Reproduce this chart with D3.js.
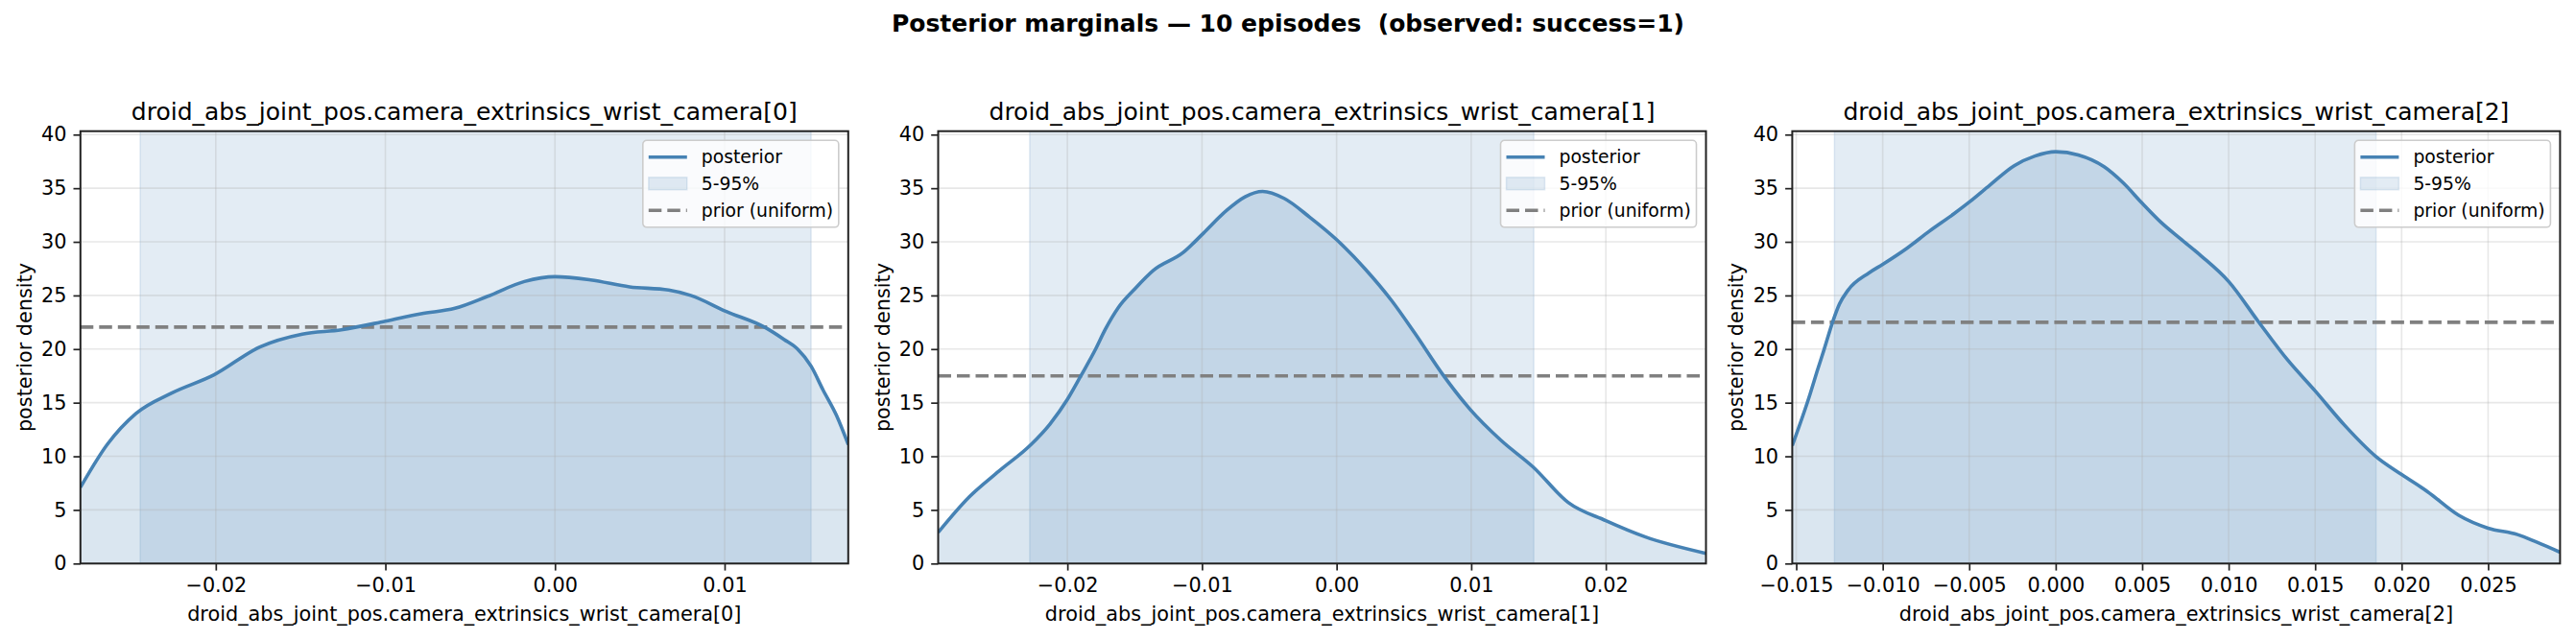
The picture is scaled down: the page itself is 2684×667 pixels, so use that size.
<!DOCTYPE html>
<html>
<head>
<meta charset="utf-8">
<script src="https://cdn.jsdelivr.net/npm/d3@7"></script>
<style>
  body { margin: 0; background: #fff; }
  svg { display: block; font-family: "DejaVu Sans", sans-serif; }
</style>
</head>
<body>
<svg id="chart" width="2684" height="667"></svg>
<script>
// values
const suptitle = "Posterior marginals \u2014 10 episodes  (observed: success=1)";
const dimNames = [
  "droid_abs_joint_pos.camera_extrinsics_wrist_camera[0]",
  "droid_abs_joint_pos.camera_extrinsics_wrist_camera[1]",
  "droid_abs_joint_pos.camera_extrinsics_wrist_camera[2]"
];
const xDomains = [[-0.02798, 0.01729], [-0.0296, 0.02744], [-0.01523, 0.02916]];
const xTicks = [
  [-0.02, -0.01, 0.00, 0.01],
  [-0.02, -0.01, 0.00, 0.01, 0.02],
  [-0.015, -0.010, -0.005, 0.000, 0.005, 0.010, 0.015, 0.020, 0.025]
];
const xTickDigits = [2, 2, 3];
const yTicks = [0, 5, 10, 15, 20, 25, 30, 35, 40];
const yMax = 40.32;
const bands = [[-0.02446, 0.0151], [-0.0228, 0.01465], [-0.01279, 0.01852]];
const priors = [22.05, 17.5, 22.5];
const legendLabels = ["posterior", "5-95%", "prior (uniform)"];

const post0 = [
  [-0.02798, 7.1], [-0.0264, 11.1], [-0.0247, 14.0], [-0.0226, 15.9], [-0.0201, 17.6],
  [-0.0174, 20.2], [-0.0149, 21.4], [-0.0126, 21.8], [-0.0100, 22.6], [-0.0079, 23.3],
  [-0.0059, 23.8], [-0.0040, 24.9], [-0.0018, 26.3], [0.0000, 26.75], [0.0021, 26.45],
  [0.0044, 25.8], [0.0067, 25.5], [0.0080, 25.0], [0.0101, 23.5], [0.0124, 22.0],
  [0.0135, 20.9], [0.0143, 20.0], [0.0151, 18.4], [0.0158, 16.2], [0.0166, 13.8],
  [0.01729, 11.1]
];
const post1 = [
  [-0.0296, 2.9], [-0.0273, 6.2], [-0.0251, 8.6], [-0.0227, 11.1], [-0.0213, 13.0],
  [-0.0200, 15.3], [-0.0190, 17.5], [-0.0179, 20.0], [-0.0172, 21.8], [-0.0162, 23.9],
  [-0.0150, 25.6], [-0.0136, 27.35], [-0.0114, 29.0], [-0.0099, 30.8], [-0.0082, 32.9],
  [-0.0068, 34.2], [-0.0055, 34.7], [-0.0039, 34.05], [-0.0020, 32.3], [0.0000, 30.2],
  [0.0021, 27.5], [0.0041, 24.5], [0.0058, 21.5], [0.0079, 17.6], [0.0099, 14.4],
  [0.0122, 11.5], [0.0146, 9.0], [0.0172, 5.7], [0.0200, 4.0], [0.0229, 2.5],
  [0.02744, 0.95]
];
const post2 = [
  [-0.01523, 11.0], [-0.0142, 15.8], [-0.0138, 17.9], [-0.0134, 19.9], [-0.0129, 22.5],
  [-0.0125, 24.2], [-0.0120, 25.5], [-0.0108, 27.1], [-0.0100, 27.9], [-0.0086, 29.4],
  [-0.0073, 31.0], [-0.0059, 32.6], [-0.0050, 33.7], [-0.0038, 35.3], [-0.0024, 37.1],
  [-0.0012, 38.0], [0.0000, 38.4], [0.0013, 38.1], [0.0028, 37.0], [0.0039, 35.5],
  [0.0050, 33.6], [0.0061, 31.8], [0.0072, 30.3], [0.0084, 28.7], [0.0100, 26.3],
  [0.0117, 22.6], [0.0134, 19.0], [0.0150, 16.1], [0.0167, 12.9], [0.0185, 10.0],
  [0.0200, 8.3], [0.0215, 6.7], [0.0233, 4.5], [0.0250, 3.3], [0.0267, 2.7],
  [0.0278, 2.0], [0.02916, 1.05]
];
const posteriors = [post0, post1, post2];

// layout
const panelLeft = [83.8, 977.5, 1867.4];
const panelW = 800, plotTop = 136.7, plotBottom = 587.3;
const blue = "steelblue";

const svg = d3.select("#chart");

svg.append("text")
  .attr("x", 1342).attr("y", 33)
  .attr("text-anchor", "middle")
  .style("font-size", "25px").style("font-weight", "bold").style("white-space", "pre")
  .text(suptitle);

const y = d3.scaleLinear().domain([0, yMax]).range([plotBottom, plotTop]);

dimNames.forEach(function(name, i) {
  const left = panelLeft[i], right = left + panelW;
  const x = d3.scaleLinear().domain(xDomains[i]).range([left, right]);
  const g = svg.append("g");

  g.append("clipPath").attr("id", "clip" + i)
    .append("rect").attr("x", left).attr("y", plotTop).attr("width", panelW).attr("height", plotBottom - plotTop);
  const plot = g.append("g").attr("clip-path", "url(#clip" + i + ")");

  // 5-95% band
  plot.append("rect")
    .attr("x", x(bands[i][0])).attr("y", plotTop)
    .attr("width", x(bands[i][1]) - x(bands[i][0])).attr("height", plotBottom - plotTop)
    .attr("fill", blue).attr("fill-opacity", 0.15)
    .attr("stroke", blue).attr("stroke-opacity", 0.15).attr("stroke-width", 1.5);

  // area under posterior
  const area = d3.area().x(d => x(d[0])).y0(y(0)).y1(d => y(d[1])).curve(d3.curveMonotoneX);
  plot.append("path").datum(posteriors[i]).attr("d", area)
    .attr("fill", blue).attr("fill-opacity", 0.2);

  // grid
  plot.selectAll(".gx").data(xTicks[i]).join("line")
    .attr("x1", d => x(d)).attr("x2", d => x(d)).attr("y1", plotTop).attr("y2", plotBottom)
    .attr("stroke", "#b0b0b0").attr("stroke-opacity", 0.3).attr("stroke-width", 1.6);
  plot.selectAll(".gy").data(yTicks).join("line")
    .attr("x1", left).attr("x2", right).attr("y1", d => y(d)).attr("y2", d => y(d))
    .attr("stroke", "#b0b0b0").attr("stroke-opacity", 0.3).attr("stroke-width", 1.6);

  // prior
  plot.append("line")
    .attr("x1", left).attr("x2", right).attr("y1", y(priors[i])).attr("y2", y(priors[i]))
    .attr("stroke", "gray").attr("stroke-width", 3.6).attr("stroke-dasharray", "13.5,6");

  // posterior curve
  const line = d3.line().x(d => x(d[0])).y(d => y(d[1])).curve(d3.curveMonotoneX);
  plot.append("path").datum(posteriors[i]).attr("d", line)
    .attr("fill", "none").attr("stroke", blue).attr("stroke-width", 3.6);

  // axes
  const fmt = d3.format("." + xTickDigits[i] + "f");
  const xAxis = g.append("g").attr("transform", "translate(0," + plotBottom + ")")
    .call(d3.axisBottom(x).tickValues(xTicks[i]).tickFormat(fmt).tickSizeOuter(0).tickSize(7.3).tickPadding(7));
  const yAxis = g.append("g").attr("transform", "translate(" + left + ",0)")
    .call(d3.axisLeft(y).tickValues(yTicks).tickFormat(d3.format("d")).tickSizeOuter(0).tickSize(7.3).tickPadding(7));
  [xAxis, yAxis].forEach(function(ax) {
    ax.select(".domain").remove();
    ax.selectAll(".tick line").attr("stroke", "#222").attr("stroke-width", 1.7);
    ax.selectAll(".tick text").attr("fill", "#000").style("font-size", "20.8px").style("font-family", "DejaVu Sans");
  });
  xAxis.selectAll(".tick text").attr("dy", "0.75em");

  // spines
  g.append("rect").attr("x", left).attr("y", plotTop).attr("width", panelW).attr("height", plotBottom - plotTop)
    .attr("fill", "none").attr("stroke", "#222").attr("stroke-width", 2);

  // texts
  g.append("text").attr("x", left + panelW / 2).attr("y", 124.5).attr("text-anchor", "middle")
    .style("font-size", "25px").text(name);
  g.append("text").attr("x", left + panelW / 2).attr("y", 647).attr("text-anchor", "middle")
    .style("font-size", "20.8px").text(name);
  g.append("text")
    .attr("transform", "translate(" + (left - 51) + "," + ((plotTop + plotBottom) / 2) + ") rotate(-90)")
    .attr("text-anchor", "middle").style("font-size", "20.8px").text("posterior density");

  // legend
  const lx = right - 214, ly = 146.3;
  const lg = g.append("g").attr("transform", "translate(" + lx + "," + ly + ")");
  lg.append("rect").attr("width", 204).attr("height", 90.5).attr("rx", 4)
    .attr("fill", "#fff").attr("fill-opacity", 0.8).attr("stroke", "#cccccc").attr("stroke-width", 1.6);
  lg.append("line").attr("x1", 6).attr("x2", 46).attr("y1", 17.5).attr("y2", 17.5)
    .attr("stroke", blue).attr("stroke-width", 3.6);
  lg.append("rect").attr("x", 6).attr("y", 38.5).attr("width", 40).attr("height", 13)
    .attr("fill", blue).attr("fill-opacity", 0.15).attr("stroke", blue).attr("stroke-opacity", 0.15).attr("stroke-width", 1.5);
  lg.append("line").attr("x1", 6).attr("x2", 46).attr("y1", 73).attr("y2", 73)
    .attr("stroke", "gray").attr("stroke-width", 3.6).attr("stroke-dasharray", "13.5,6");
  lg.selectAll(".lt").data(legendLabels).join("text")
    .attr("x", 61).attr("y", (d, k) => 17.5 + k * 28).attr("dy", "0.35em")
    .style("font-size", "18.75px").text(d => d);
});
</script>
</body>
</html>
